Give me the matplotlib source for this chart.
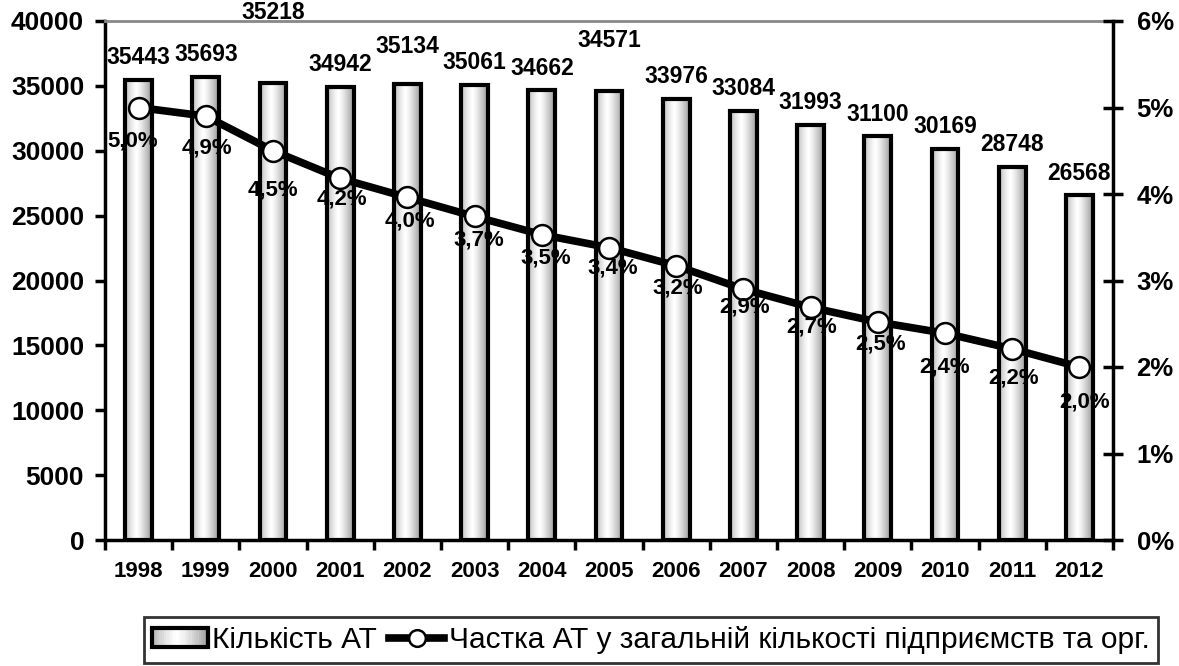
"""Кількість АТ та їх частка у загальній кількості підприємств, 1998-2012."""

import matplotlib

matplotlib.use("Agg")
import matplotlib.pyplot as plt
import numpy as np
from matplotlib.legend_handler import HandlerBase
from matplotlib.lines import Line2D
from matplotlib.patches import Rectangle
from matplotlib.ticker import FixedLocator, PercentFormatter

years = [1998, 1999, 2000, 2001, 2002, 2003, 2004, 2005,
         2006, 2007, 2008, 2009, 2010, 2011, 2012]
companies = [35443, 35693, 35218, 34942, 35134, 35061, 34662, 34571,
             33976, 33084, 31993, 31100, 30169, 28748, 26568]
share_pct = [5.0, 4.9, 4.5, 4.18, 3.96, 3.74, 3.53, 3.38,
             3.17, 2.9, 2.69, 2.52, 2.39, 2.21, 2.0]
legend_labels = ["Кількість АТ",
                 "Частка АТ у загальній кількості підприємств та орг."]

# label placement (points)
count_label_dy = [16, 16, 51, 16, 27, 16, 16, 37, 16, 16, 16, 16, 16, 16, 16]
share_label_dy = [-24, -23, -28, -15, -17, -17, -17, -15, -16, -13, -14, -16, -24, -21, -25]
share_label_dx = [-4, 1, 0, 1, 2, 3, 3, 3, 1, 1, 1, 2, 0, 1, 4]

plt.rcParams["font.family"] = ["Liberation Sans", "DejaVu Sans"]

BAR_W = 0.4
grad = 1 - 0.4 * (np.abs(np.linspace(0, 1, 64) - 0.42) / 0.58) ** 1.3
grad = grad.reshape(1, -1)


class GradientBarHandler(HandlerBase):
    def create_artists(self, legend, orig_handle, xdescent, ydescent,
                       width, height, fontsize, trans):
        artists = []
        n = 24
        for i in range(n):
            v = grad[0, int(i / n * grad.shape[1])]
            artists.append(Rectangle((-xdescent + width * i / n, -ydescent), width / n + 0.3,
                                     height, facecolor=str(v), edgecolor="none",
                                     transform=trans))
        artists.append(Rectangle((-xdescent, -ydescent), width, height, facecolor="none",
                                 edgecolor="black", lw=3, transform=trans))
        return artists


fig = plt.figure(figsize=(11.79, 6.66), dpi=100)
ax = fig.add_axes([105 / 1179, 1 - 540 / 666, 1008 / 1179, 519 / 666])
x = np.arange(len(years))

for xi, val in zip(x, companies):
    ax.imshow(grad, cmap="gray", vmin=0, vmax=1, aspect="auto", interpolation="bilinear",
              extent=(xi - BAR_W / 2, xi + BAR_W / 2, 0, val), zorder=1)
ax.bar(x, companies, BAR_W, fill=False, edgecolor="black", linewidth=3, zorder=2)

for xi, val, dy in zip(x, companies, count_label_dy):
    ax.annotate(str(val), (xi, val), xytext=(0, dy), textcoords="offset points",
                ha="center", va="center", fontsize=16.5, fontweight="bold")

ax.set_xlim(-0.5, len(years) - 0.5)
ax.set_ylim(0, 40000)
ax.set_yticks(range(0, 40001, 5000))
ax.set_xticks(x)
ax.set_xticklabels(years)
ax.xaxis.set_minor_locator(FixedLocator(np.arange(-0.5, len(years), 1)))
ax.tick_params(axis="x", which="major", length=0, pad=15, labelsize=16)
ax.tick_params(axis="x", which="minor", length=7, width=2.5, direction="out")
ax.tick_params(axis="y", length=7, width=2.5, direction="out", labelsize=19, pad=8)
for lab in ax.get_xticklabels() + ax.get_yticklabels():
    lab.set_fontweight("bold")

for side in ["left", "bottom"]:
    ax.spines[side].set_linewidth(2.5)
ax.spines["right"].set_visible(False)
ax.spines["top"].set_color("#888888")
ax.spines["top"].set_linewidth(2)

ax2 = ax.twinx()
ax2.plot(x, share_pct, color="black", linewidth=5.5, marker="o", markersize=15,
         markerfacecolor="white", markeredgecolor="black", markeredgewidth=1.8,
         solid_joinstyle="round", zorder=3)
for xi, val, dx, dy in zip(x, share_pct, share_label_dx, share_label_dy):
    ax2.annotate(f"{val:.1f}%".replace(".", ","), (xi, val), xytext=(dx, dy),
                 textcoords="offset points", ha="center", va="center",
                 fontsize=16, fontweight="bold")
ax2.set_ylim(0, 6)
ax2.set_yticks(range(0, 7))
ax2.yaxis.set_major_formatter(PercentFormatter(decimals=0))
ax2.tick_params(axis="y", length=14, width=2.5, direction="inout", labelsize=18.5, pad=10)
for lab in ax2.get_yticklabels():
    lab.set_fontweight("bold")
for side in ["left", "top", "bottom"]:
    ax2.spines[side].set_visible(False)
ax2.spines["right"].set_linewidth(2.5)
ax2.set_xlim(ax.get_xlim())

bar_handle = Rectangle((0, 0), 1, 1)
line_handle = Line2D([], [], color="black", linewidth=5.5, marker="o", markersize=12,
                     markerfacecolor="white", markeredgecolor="black", markeredgewidth=1.8)
leg = fig.legend([bar_handle, line_handle], legend_labels, ncol=2, loc="center",
                 bbox_to_anchor=(651 / 1179, 1 - 640 / 666),
                 handler_map={Rectangle: GradientBarHandler()},
                 prop={"size": 21.5}, frameon=True, fancybox=False, edgecolor="black",
                 handlelength=1.85, handleheight=0.6, handletextpad=0.15,
                 columnspacing=0.4, borderpad=0.3, borderaxespad=0)
leg.get_frame().set_linewidth(2)

fig.savefig("out.png", dpi=100)
